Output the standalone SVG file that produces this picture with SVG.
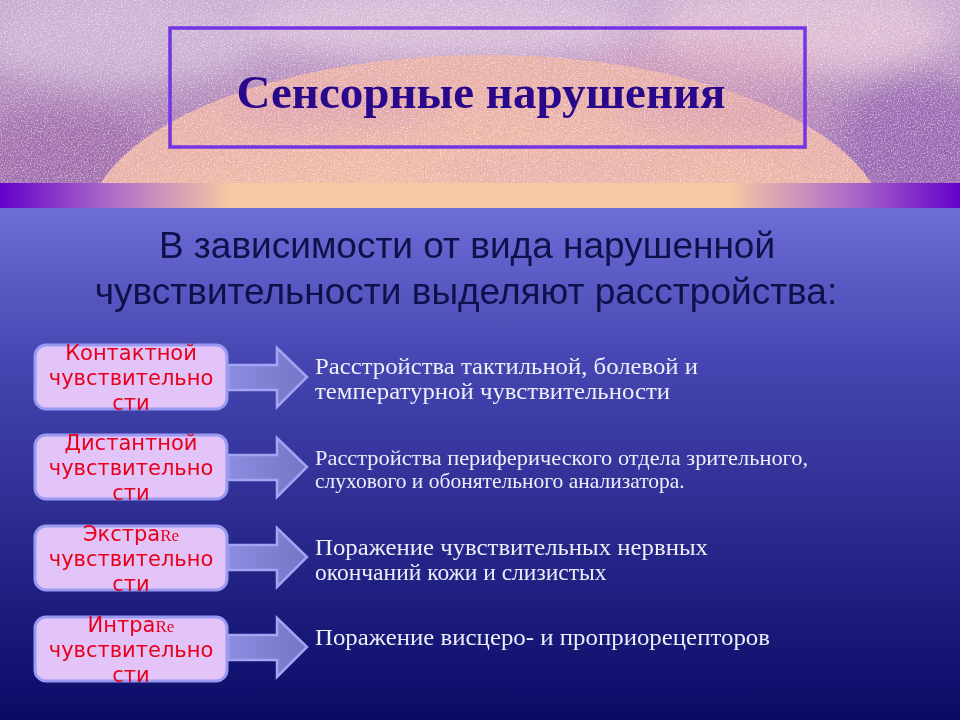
<svg xmlns="http://www.w3.org/2000/svg" width="960" height="720" viewBox="0 0 960 720">
<defs>
<linearGradient id="bg" x1="0" y1="0" x2="0" y2="1">
<stop offset="0" stop-color="#9494f2"/>
<stop offset="0.2" stop-color="#7e7ee6"/>
<stop offset="0.5" stop-color="#4646b2"/>
<stop offset="1" stop-color="#0a0a66"/>
</linearGradient>
<linearGradient id="band" x1="0" y1="0" x2="1" y2="0">
<stop offset="0" stop-color="#6400cc"/>
<stop offset="0.12" stop-color="#b070c8"/>
<stop offset="0.24" stop-color="#f6c8a4"/>
<stop offset="0.76" stop-color="#f6c8a4"/>
<stop offset="0.88" stop-color="#b070c8"/>
<stop offset="1" stop-color="#6400cc"/>
</linearGradient>
<linearGradient id="sky" x1="0" y1="0" x2="0" y2="1">
<stop offset="0" stop-color="#c8acd0"/>
<stop offset="0.5" stop-color="#b48cbc"/>
<stop offset="1" stop-color="#a474b0"/>
</linearGradient>
<radialGradient id="dome" cx="0.5" cy="0.7" r="0.6">
<stop offset="0" stop-color="#f8caa8"/>
<stop offset="0.7" stop-color="#f2bca2"/>
<stop offset="1" stop-color="#ecb2a6"/>
</radialGradient>
<linearGradient id="arrowFill" x1="0" y1="0" x2="1" y2="0">
<stop offset="0" stop-color="#8c8ce0"/>
<stop offset="1" stop-color="#7676c8"/>
</linearGradient>
<filter id="blur" x="-50%" y="-50%" width="200%" height="200%">
<feGaussianBlur stdDeviation="14"/>
</filter>
<filter id="grain" x="0" y="0" width="960" height="183" filterUnits="userSpaceOnUse">
<feTurbulence type="fractalNoise" baseFrequency="0.7" numOctaves="2" seed="3" result="n"/>
<feColorMatrix in="n" type="matrix" values="0 0 0 0 1  0 0 0 0 0.93  0 0 0 0 1  3 0 0 0 -1.45" result="w"/>
<feColorMatrix in="n" type="matrix" values="0 0 0 0 0.55  0 0 0 0 0.35  0 0 0 0 0.65  0 -3 0 0 1.45" result="d"/>
<feMerge><feMergeNode in="w"/><feMergeNode in="d"/></feMerge>
</filter>
<clipPath id="topClip"><rect x="0" y="0" width="960" height="183"/></clipPath>
<style>
.node rect{fill:#e2c4f8;stroke:#9a9af2;stroke-width:3}
.node text{font-family:"DejaVu Sans",sans-serif;font-size:21px;fill:#e8001a;text-anchor:middle}
.re{font-family:"Liberation Serif",serif;font-size:17px}
.arrow{fill:url(#arrowFill);stroke:#a4a4f4;stroke-width:2.5;stroke-linejoin:miter}
.desc{font-family:"Liberation Serif","Times New Roman",serif;fill:#eeeefa}
.sub{font-family:"Liberation Sans",Arial,sans-serif;font-size:37px;fill:#10104a;text-anchor:middle}
</style>
</defs>

<!-- background -->
<rect x="0" y="0" width="960" height="720" fill="url(#bg)"/>
<g clip-path="url(#topClip)">
<rect x="0" y="0" width="960" height="183" fill="url(#sky)"/>
<g filter="url(#blur)">
<ellipse cx="120" cy="40" rx="140" ry="45" fill="#d0bcd8" opacity="0.8"/>
<ellipse cx="440" cy="25" rx="200" ry="35" fill="#e0c8dc" opacity="0.8"/>
<ellipse cx="800" cy="30" rx="150" ry="45" fill="#e4c4d6" opacity="0.85"/>
<ellipse cx="60" cy="150" rx="90" ry="40" fill="#9c6aa8" opacity="0.7"/>
<ellipse cx="920" cy="140" rx="80" ry="60" fill="#9464b0" opacity="0.8"/>
<ellipse cx="700" cy="70" rx="120" ry="30" fill="#d8a0b8" opacity="0.6"/>
</g>
<ellipse cx="486" cy="230" rx="400" ry="175" fill="url(#dome)"/>
<g filter="url(#blur)" opacity="0.5">
<ellipse cx="330" cy="110" rx="110" ry="18" fill="#d898b0"/>
<ellipse cx="720" cy="115" rx="100" ry="20" fill="#d898b0"/>
<ellipse cx="560" cy="170" rx="140" ry="12" fill="#e0a0b0"/>
</g>
<rect x="0" y="0" width="960" height="183" filter="url(#grain)" opacity="0.6"/>
</g>
<rect x="0" y="183" width="960" height="25" fill="url(#band)"/>

<!-- title -->
<g id="title">
<rect x="170" y="28" width="635" height="119" fill="none" stroke="#7434e6" stroke-width="3.5"/>
<text x="481" y="108" text-anchor="middle" font-family="Liberation Serif,'Times New Roman',serif" font-weight="bold" font-size="47" fill="#2a088c">Сенсорные нарушения</text>
</g>

<g id="subtitle">
<text class="sub" x="467" y="258">В зависимости от вида нарушенной</text>
<text class="sub" x="466" y="304">чувствительности выделяют расстройства:</text>
</g>

<!-- connectors -->
<g id="connectors">
<path class="arrow" d="M228,365 H277 V348 L307,377 L277,407 V390 H228 Z"/>
<path class="arrow" d="M228,455 H277 V438 L307,467 L277,497 V480 H228 Z"/>
<path class="arrow" d="M228,545 H277 V528 L307,557 L277,587 V570 H228 Z"/>
<path class="arrow" d="M228,635 H277 V618 L307,647 L277,677 V660 H228 Z"/>
</g>

<!-- nodes -->
<g id="node1" class="node">
<rect x="35" y="345" width="192" height="64" rx="11"/>
<text x="131" y="360">Контактной</text>
<text x="131" y="385">чувствительно</text>
<text x="131" y="410">сти</text>
</g>
<g id="node2" class="node">
<rect x="35" y="435" width="192" height="64" rx="11"/>
<text x="131" y="450">Дистантной</text>
<text x="131" y="475">чувствительно</text>
<text x="131" y="500">сти</text>
</g>
<g id="node3" class="node">
<rect x="35" y="526" width="192" height="64" rx="11"/>
<text x="131" y="541">Экстра<tspan class="re">Re</tspan></text>
<text x="131" y="566">чувствительно</text>
<text x="131" y="591">сти</text>
</g>
<g id="node4" class="node">
<rect x="35" y="617" width="192" height="64" rx="11"/>
<text x="131" y="632">Интра<tspan class="re">Re</tspan></text>
<text x="131" y="657">чувствительно</text>
<text x="131" y="682">сти</text>
</g>

<!-- descriptions -->
<g id="desc1" class="desc" font-size="23.5">
<text x="315" y="374" textLength="383" lengthAdjust="spacingAndGlyphs">Расстройства тактильной, болевой и</text>
<text x="315" y="399" textLength="355" lengthAdjust="spacingAndGlyphs">температурной чувствительности</text>
</g>
<g id="desc2" class="desc" font-size="21.5">
<text x="315" y="465" textLength="493" lengthAdjust="spacingAndGlyphs">Расстройства периферического отдела зрительного,</text>
<text x="315" y="488">слухового и обонятельного анализатора.</text>
</g>
<g id="desc3" class="desc" font-size="23.5">
<text x="315" y="555" textLength="393" lengthAdjust="spacingAndGlyphs">Поражение чувствительных нервных</text>
<text x="315" y="580">окончаний кожи и слизистых</text>
</g>
<g id="desc4" class="desc" font-size="23.5">
<text x="315" y="645" textLength="455" lengthAdjust="spacingAndGlyphs">Поражение висцеро- и проприорецепторов</text>
</g>
</svg>
